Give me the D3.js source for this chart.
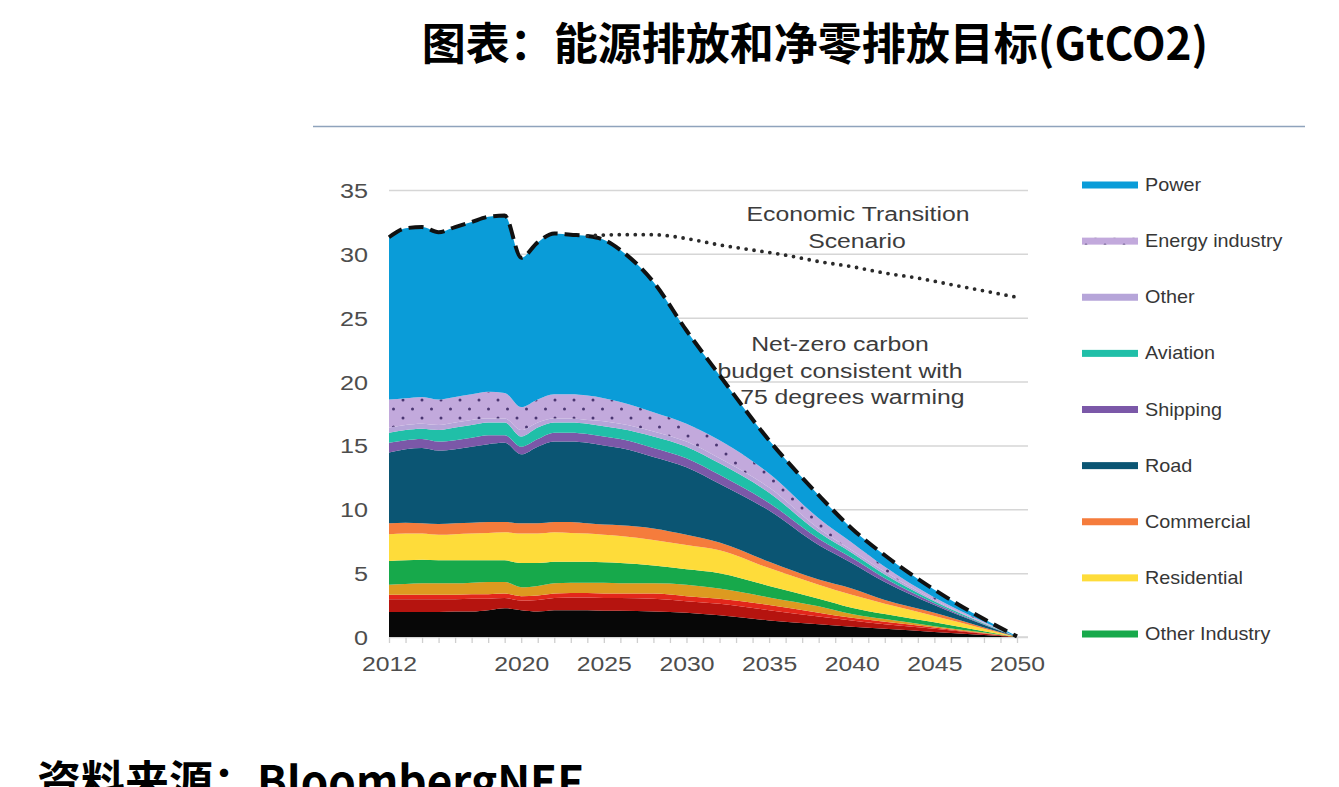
<!DOCTYPE html>
<html lang="zh">
  <head>
    <meta charset="UTF-8" />
    <title>能源排放和净零排放目标</title>
    <style type="text/css">
      html,
      body {
        margin: 0;
        padding: 0;
        background: #fff;
      }

      svg {
        display: block;
      }

      .title {
        font-family: "Noto Sans CJK SC", sans-serif;
        font-weight: 700;
        fill: #000;
      }

      .axis text {
        font-family: "Liberation Sans", Arial, sans-serif;
        font-size: 21px;
        fill: #4d4d4d;
      }

      .note {
        font-family: "Liberation Sans", Arial, sans-serif;
        font-size: 21px;
        fill: #3c3c3c;
      }

      .legend text {
        font-family: "Liberation Sans", Arial, sans-serif;
        font-size: 18px;
        fill: #363636;
      }
    </style>
  </head>
  <body>
    <svg id="chart" width="1339" height="787"></svg>

    <script src="https://cdn.jsdelivr.net/npm/d3@7/dist/d3.min.js"></script>
    <script>
      // === Data (GtCO2, thickness of each layer) === //

      var years = [2012, 2013, 2014, 2015, 2016, 2017, 2018, 2019, 2020, 2021, 2022, 2023, 2024,
        2025, 2026, 2028, 2030, 2032, 2035, 2038, 2040, 2042, 2045, 2048, 2050];

      // the four lowest layers have no entry in the visible legend
      var layerBlack = [1.95, 1.95, 1.95, 1.95, 2.0, 2.0, 2.1, 2.25, 2.1, 2.0, 2.1, 2.1, 2.1,
        2.05, 2.05, 2.0, 1.9, 1.7, 1.3, 1.0, 0.8, 0.65, 0.4, 0.15, 0];
      var layerDarkRed = [1.0, 1.0, 1.0, 1.0, 0.95, 1.0, 0.9, 0.8, 0.75, 0.9, 0.95, 1.0, 1.0,
        1.0, 1.0, 1.0, 0.9, 0.9, 0.8, 0.6, 0.5, 0.35, 0.25, 0.1, 0];
      var layerRed = [0.35, 0.35, 0.35, 0.35, 0.35, 0.35, 0.35, 0.35, 0.35, 0.35, 0.35, 0.35, 0.35,
        0.35, 0.35, 0.4, 0.4, 0.4, 0.4, 0.3, 0.2, 0.2, 0.1, 0.05, 0];
      var layerGold = [0.8, 0.85, 0.9, 0.9, 0.9, 0.9, 0.95, 0.9, 0.7, 0.75, 0.8, 0.8, 0.8,
        0.85, 0.8, 0.8, 0.9, 0.8, 0.6, 0.5, 0.3, 0.2, 0.1, 0.05, 0];
      var otherIndustry = [1.85, 1.85, 1.85, 1.8, 1.8, 1.75, 1.7, 1.7, 1.9, 1.8, 1.7, 1.65, 1.65,
        1.6, 1.6, 1.4, 1.2, 1.2, 0.9, 0.6, 0.5, 0.4, 0.3, 0.1, 0];
      var residential = [2.1, 2.1, 2.05, 2.0, 2.05, 2.1, 2.15, 2.2, 2.3, 2.3, 2.3, 2.25, 2.2,
        2.15, 2.1, 2.0, 1.9, 1.8, 1.4, 1.1, 1.0, 0.8, 0.5, 0.2, 0];
      var commercial = [0.85, 0.85, 0.8, 0.85, 0.85, 0.85, 0.85, 0.8, 0.8, 0.8, 0.8, 0.85, 0.8,
        0.8, 0.85, 0.9, 0.8, 0.6, 0.5, 0.4, 0.5, 0.3, 0.25, 0.1, 0];
      var road = [5.55, 5.75, 5.9, 5.75, 5.8, 5.95, 6.1, 6.2, 5.4, 6.0, 6.3, 6.3, 6.3,
        6.2, 6.05, 5.6, 5.3, 4.6, 4.0, 2.7, 2.0, 1.4, 0.6, 0.2, 0];
      var shipping = [0.75, 0.7, 0.7, 0.7, 0.7, 0.7, 0.7, 0.6, 0.6, 0.6, 0.7, 0.7, 0.7,
        0.7, 0.7, 0.7, 0.7, 0.7, 0.6, 0.5, 0.4, 0.3, 0.15, 0.05, 0];
      var aviation = [0.8, 0.8, 0.8, 0.9, 1.0, 1.0, 1.0, 1.0, 0.8, 0.9, 0.8, 0.8, 0.8,
        0.8, 0.8, 0.9, 0.9, 0.9, 0.8, 0.5, 0.4, 0.3, 0.15, 0.05, 0];
      var other = [0.4, 0.4, 0.4, 0.4, 0.4, 0.4, 0.3, 0.3, 0.5, 0.4, 0.3, 0.3, 0.3,
        0.4, 0.4, 0.4, 0.4, 0.4, 0.4, 0.3, 0.2, 0.2, 0.1, 0.05, 0];
      var energyIndustry = [2.2, 2.1, 2.1, 2.0, 2.0, 2.0, 2.1, 2.0, 1.8, 1.8, 1.9, 1.9, 1.9,
        1.8, 1.7, 1.5, 1.4, 1.4, 1.1, 0.8, 0.6, 0.4, 0.2, 0.1, 0];
      var power = [12.7, 13.3, 13.3, 13.1, 13.3, 13.5, 13.7, 13.9, 11.7, 12.3, 12.6, 12.5, 12.5,
        12.4, 11.9, 10.2, 7.3, 5.1, 2.6, 1.8, 1.1, 0.9, 0.6, 0.2, 0.05];

      // Economic Transition Scenario (dotted)
      var etsYears = [2024, 2026, 2028, 2030, 2032, 2034, 2036, 2038, 2040, 2042, 2044, 2046, 2048, 2050];
      var etsValues = [31.4, 31.5, 31.5, 31.2, 30.7, 30.3, 29.9, 29.4, 29.0, 28.5, 28.1, 27.6, 27.1, 26.6];

      var yTicks = [0, 5, 10, 15, 20, 25, 30, 35];
      var xLabelYears = [2012, 2020, 2025, 2030, 2035, 2040, 2045, 2050];

      var legendNames = ["Power", "Energy industry", "Other", "Aviation", "Shipping",
        "Road", "Commercial", "Residential", "Other Industry"];

      // bottom to top
      var series = [
        { key: "layerBlack", values: layerBlack, color: "#070707" },
        { key: "layerDarkRed", values: layerDarkRed, color: "#b5140f" },
        { key: "layerRed", values: layerRed, color: "#e3271b" },
        { key: "layerGold", values: layerGold, color: "#dd9a20" },
        { key: "Other Industry", values: otherIndustry, color: "#17a94b" },
        { key: "Residential", values: residential, color: "#fedc3a" },
        { key: "Commercial", values: commercial, color: "#f57c3c" },
        { key: "Road", values: road, color: "#0b5573" },
        { key: "Shipping", values: shipping, color: "#7b58a8" },
        { key: "Aviation", values: aviation, color: "#20bfa8" },
        { key: "Other", values: other, color: "#b6a5d9" },
        { key: "Energy industry", values: energyIndustry, color: "url(#dots)" },
        { key: "Power", values: power, color: "#0a9cd8" }
      ];

      // the chart in the source is a slightly widened picture, so its texts run wide
      function stretch(sel, sx) {
        sel.each(function() {
          var t = d3.select(this);
          var tx = +t.attr("x") || 0,
            ty = +t.attr("y") || 0;
          t.attr("x", 0)
            .attr("y", 0)
            .attr("transform", "translate(" + tx + "," + ty + ") scale(" + sx + ",1)");
        });
      } // stretch()

      // === Setup === //

      var svg = d3.select("#chart");

      var x = d3.scaleLinear().domain([2012, 2050]).range([389, 1017]);
      var y = d3.scaleLinear().domain([0, 35]).range([637, 190]);
      var gridRight = 1028;

      var defs = svg.append("defs");
      var pat = defs.append("pattern")
        .attr("id", "dots")
        .attr("patternUnits", "userSpaceOnUse")
        .attr("width", 19)
        .attr("height", 18);
      pat.append("rect").attr("width", 19).attr("height", 18).attr("fill", "#c2a9dc");
      pat.append("circle").attr("cx", 4).attr("cy", 4).attr("r", 1.5).attr("fill", "#4b3672");
      pat.append("circle").attr("cx", 13.5).attr("cy", 13).attr("r", 1.5).attr("fill", "#4b3672");

      // title + rule
      svg.append("text")
        .attr("class", "title")
        .attr("x", 815)
        .attr("y", 60)
        .attr("text-anchor", "middle")
        .style("font-size", "44px")
        .text("图表：能源排放和净零排放目标(GtCO2)");

      svg.append("line")
        .attr("x1", 313).attr("x2", 1305)
        .attr("y1", 126.5).attr("y2", 126.5)
        .attr("stroke", "#8fa3bc")
        .attr("stroke-width", 1.3);

      // === Axes === //

      var yAxis = svg.append("g")
        .attr("class", "axis")
        .attr("transform", "translate(" + x(2012) + ",0)")
        .call(d3.axisLeft(y)
          .tickValues(yTicks)
          .tickSizeInner(-(gridRight - x(2012)))
          .tickSizeOuter(0)
          .tickPadding(21));
      yAxis.select(".domain").remove();
      yAxis.selectAll("line").attr("stroke", "#d6d6d6").attr("stroke-width", 1.5);
      yAxis.selectAll("text").attr("dy", "0.36em");
      stretch(yAxis.selectAll("text"), 1.2);

      var xAxis = svg.append("g")
        .attr("class", "axis")
        .attr("transform", "translate(0," + y(0) + ")")
        .call(d3.axisBottom(x)
          .tickValues(d3.range(2012, 2051))
          .tickSizeInner(6)
          .tickSizeOuter(0)
          .tickPadding(13)
          .tickFormat(function(d) {
            return xLabelYears.indexOf(d) >= 0 ? String(d) : "";
          }));
      xAxis.select(".domain").attr("stroke", "#d6d6d6").attr("stroke-width", 1.5)
        .attr("d", "M" + x(2012) + ",0H" + gridRight);
      xAxis.selectAll("line").attr("stroke", "#cfcfcf").attr("stroke-width", 1.3);
      stretch(xAxis.selectAll("text"), 1.18);

      // === Annotations (under the areas, the dashed line covers the "1") === //

      var notes = [
        { text: "Economic Transition", x: 858, y: 221 },
        { text: "Scenario", x: 857, y: 248 },
        { text: "Net-zero carbon", x: 840, y: 351 },
        { text: "budget consistent with", x: 840, y: 378 },
        { text: "1.75 degrees warming", x: 842, y: 404 }
      ];
      var noteSel = svg.selectAll("text.note")
        .data(notes)
        .enter()
        .append("text")
        .attr("class", "note")
        .attr("x", function(d) { return d.x; })
        .attr("y", function(d) { return d.y; })
        .attr("text-anchor", "middle")
        .text(function(d) { return d.text; });
      stretch(noteSel, 1.18);

      // === Stacked areas === //

      var rows = years.map(function(yr, i) {
        var row = { year: yr };
        series.forEach(function(s) { row[s.key] = s.values[i]; });
        return row;
      });

      var stack = d3.stack().keys(series.map(function(s) { return s.key; }));
      var stacked = stack(rows);

      var area = d3.area()
        .curve(d3.curveMonotoneX)
        .x(function(d) { return x(d.data.year); })
        .y0(function(d) { return y(d[0]); })
        .y1(function(d) { return y(d[1]); });

      svg.append("g")
        .selectAll("path")
        .data(stacked)
        .enter()
        .append("path")
        .attr("d", area)
        .attr("fill", function(d, i) { return series[i].color; });

      // net-zero total, dashed
      var topLayer = stacked[stacked.length - 1];
      svg.append("path")
        .datum(topLayer)
        .attr("fill", "none")
        .attr("stroke", "#111")
        .attr("stroke-width", 4)
        .attr("stroke-dasharray", "15,7")
        .attr("d", d3.line()
          .curve(d3.curveMonotoneX)
          .x(function(d) { return x(d.data.year); })
          .y(function(d) { return y(d[1]); }));

      // Economic Transition Scenario, dotted
      svg.append("path")
        .datum(etsYears.map(function(yr, i) { return [yr, etsValues[i]]; }))
        .attr("fill", "none")
        .attr("stroke", "#2a2a2a")
        .attr("stroke-width", 3.8)
        .attr("stroke-linecap", "round")
        .attr("stroke-dasharray", "0,8")
        .attr("d", d3.line()
          .curve(d3.curveMonotoneX)
          .x(function(d) { return x(d[0]); })
          .y(function(d) { return y(d[1]); }));

      // === Legend === //

      var legend = svg.append("g").attr("class", "legend");
      var legendRow = d3.scalePoint().domain(legendNames).range([185, 634]);

      var item = legend.selectAll("g")
        .data(legendNames)
        .enter()
        .append("g")
        .attr("transform", function(d) { return "translate(1082," + legendRow(d) + ")"; });

      item.append("rect")
        .attr("x", 0)
        .attr("y", -3.5)
        .attr("width", 56)
        .attr("height", 7)
        .attr("fill", function(d) {
          return series.filter(function(s) { return s.key === d; })[0].color;
        });

      var legendText = item.append("text")
        .attr("x", 63)
        .attr("y", 6)
        .text(function(d) { return d; });
      stretch(legendText, 1.1);

      // === Source === //

      svg.append("text")
        .attr("class", "title")
        .attr("x", 37)
        .attr("y", 798)
        .style("font-size", "44px")
        .text("资料来源：BloombergNEF");
    </script>
  </body>
</html>
